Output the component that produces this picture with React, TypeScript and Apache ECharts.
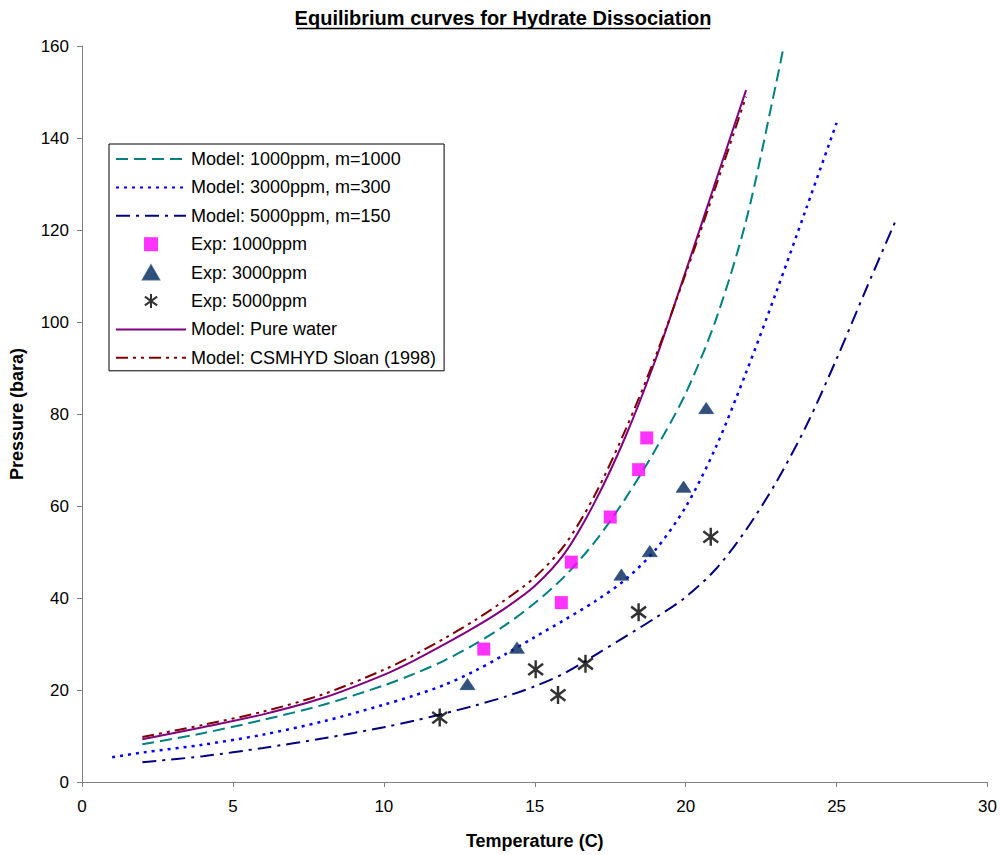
import React, { useEffect, useRef } from "react";
import * as echarts from "echarts";

// ---- Data ----
const pureT = [2, 4, 6, 8, 10, 11, 12, 13, 14, 15, 16, 17, 18, 19, 20, 21, 22];
const pureP = [9.3, 11.9, 14.7, 18.3, 23.3, 26.4, 29.9, 33.6, 37.7, 42.6, 49.8, 61.0, 75.0, 91.8, 111, 130.7, 150.4];

const sloanT = [2, 4, 6, 8, 10, 11, 12, 13, 14, 15, 16, 17, 18, 19, 20, 21, 22];
const sloanP = [9.8, 12.4, 15.3, 19.1, 24.4, 27.6, 31.2, 35.1, 39.5, 44.5, 51.6, 62.5, 76.5, 92.5, 110.5, 129.5, 149];

const m1000T = [2, 4, 6, 8, 10, 11, 12, 13, 14, 15, 16, 17, 18, 19, 20, 21, 22, 23, 23.25];
const m1000P = [8.2, 10.6, 13.5, 16.8, 21.0, 23.5, 26.4, 29.9, 34.0, 38.9, 44.8, 52.3, 61.6, 72.3, 84.5, 100.5, 122, 152, 160];

const m3000T = [1, 2, 4, 6, 8, 10, 11, 12, 13, 14, 15, 16, 17, 18, 19, 20, 21, 22, 23, 24, 25];
const m3000P = [5.4, 6.4, 8.1, 10.3, 13.2, 16.8, 18.8, 21.1, 24.1, 27.7, 31.5, 35.3, 39.3, 44.0, 50.5, 59.8, 72.8, 89, 106.5, 124.8, 143.3];

const m5000T = [2, 4, 6, 8, 10, 11, 12, 13, 14, 15, 16, 17, 18, 19, 20, 21, 22, 23, 24, 25, 26, 27];
const m5000P = [4.3, 5.6, 7.4, 9.5, 11.9, 13.3, 14.9, 16.6, 18.5, 20.8, 23.7, 27.6, 31.6, 35.7, 40.2, 46.3, 54.8, 65.2, 77.5, 92, 107.5, 122.7];

const exp1000T = [13.31, 15.88, 16.21, 17.5, 18.44, 18.71];
const exp1000P = [28.9, 39.0, 47.8, 57.6, 67.9, 74.8];

const exp3000T = [12.77, 14.41, 17.87, 18.81, 19.93, 20.68];
const exp3000P = [21.3, 29.2, 45.1, 50.2, 64.2, 81.3];

const exp5000T = [11.85, 15.03, 15.77, 16.68, 18.44, 20.83];
const exp5000P = [14.0, 24.5, 18.9, 25.7, 36.9, 53.3];

const xTicks = { min: 0, max: 30, interval: 5 };
const yTicks = { min: 0, max: 160, interval: 20 };

const names = [
  "Model: 1000ppm, m=1000",
  "Model: 3000ppm, m=300",
  "Model: 5000ppm, m=150",
  "Exp: 1000ppm",
  "Exp: 3000ppm",
  "Exp: 5000ppm",
  "Model: Pure water",
  "Model: CSMHYD Sloan (1998)",
];

const FONT = "'Liberation Sans', Arial, sans-serif";
const SQUARE = "path://M0,0L10,0L10,10L0,10Z";
const TRIANGLE = "path://M7.5,0L15,13L0,13Z";
const ASTERISK = "path://M8,0L8,16M1,3L15,13M1,13L15,3";

const zip = (xs: number[], ys: number[]) => xs.map((x, i) => [x, ys[i]]);

export default function App() {
  const ref = useRef<HTMLDivElement>(null);

  useEffect(() => {
    if (!ref.current) return;
    const chart = echarts.init(ref.current, null, { renderer: "svg" });

    const lineSeries = (name: string, xs: number[], ys: number[], color: string, type: any, width: number) => ({
      name,
      type: "line",
      data: zip(xs, ys),
      symbol: "none",
      smooth: 0.3,
      clip: true,
      lineStyle: { color, width, type },
      itemStyle: { color },
      z: 2,
    });

    const option: any = {
      animation: false,
      backgroundColor: "#ffffff",
      textStyle: { fontFamily: FONT, color: "#000" },
      grid: { left: 82, right: 12, top: 46, bottom: 71, containLabel: false },
      xAxis: {
        type: "value",
        min: xTicks.min,
        max: xTicks.max,
        interval: xTicks.interval,
        name: "Temperature (C)",
        nameLocation: "middle",
        nameGap: 50,
        nameTextStyle: { fontFamily: FONT, fontSize: 18, fontWeight: "bold", color: "#000" },
        axisLine: { show: true, onZero: false, lineStyle: { color: "#808080", width: 1 } },
        axisTick: { show: true, inside: false, length: 5, lineStyle: { color: "#808080" } },
        axisLabel: { fontFamily: FONT, fontSize: 17, color: "#000", margin: 16 },
        splitLine: { show: false },
      },
      yAxis: {
        type: "value",
        min: yTicks.min,
        max: yTicks.max,
        interval: yTicks.interval,
        name: "Pressure (bara)",
        nameLocation: "middle",
        nameGap: 56,
        nameTextStyle: { fontFamily: FONT, fontSize: 18, fontWeight: "bold", color: "#000" },
        axisLine: { show: true, onZero: false, lineStyle: { color: "#808080", width: 1 } },
        axisTick: { show: true, inside: false, length: 5, lineStyle: { color: "#808080" } },
        axisLabel: { fontFamily: FONT, fontSize: 17, color: "#000", margin: 13 },
        splitLine: { show: false },
      },
      legend: {
        orient: "vertical",
        left: 109,
        top: 144,
        padding: [6, 8, 4, 6],
        backgroundColor: "#ffffff",
        borderColor: "#000000",
        borderWidth: 1,
        borderRadius: 0,
        itemWidth: 70,
        itemHeight: 14,
        itemGap: 10.4,
        symbolKeepAspect: true,
        textStyle: { fontFamily: FONT, fontSize: 18, color: "#000", lineHeight: 18 },
        data: names.map((n, i) =>
          i < 3 || i > 5 ? { name: n, itemStyle: { opacity: 0 } } : { name: n }
        ),
      },
      graphic: [
        {
          type: "text",
          x: 503,
          y: 18,
          style: {
            text: "Equilibrium curves for Hydrate Dissociation",
            font: `bold 20px ${FONT}`,
            fill: "#000",
            align: "center",
            verticalAlign: "middle",
          },
        },
        {
          type: "line",
          shape: { x1: 297, y1: 28.5, x2: 710, y2: 28.5 },
          style: { stroke: "#000", lineWidth: 1.5 },
        },
      ],
      series: [
        lineSeries(names[0], m1000T, m1000P, "#008080", [12, 6], 2),
        lineSeries(names[1], m3000T, m3000P, "#0000ff", [3, 5], 2.5),
        lineSeries(names[2], m5000T, m5000P, "#000080", [14, 6, 3, 6], 2),
        {
          name: names[3],
          type: "scatter",
          data: zip(exp1000T, exp1000P),
          symbol: SQUARE,
          symbolSize: 13,
          symbolKeepAspect: true,
          itemStyle: { color: "#ff00ff" },
          z: 4,
        },
        {
          name: names[4],
          type: "scatter",
          data: zip(exp3000T, exp3000P),
          symbol: TRIANGLE,
          symbolSize: [15, 13],
          symbolKeepAspect: true,
          itemStyle: { color: "#00235a", borderColor: "#1d4a78", borderWidth: 0.8 },
          z: 4,
        },
        {
          name: names[5],
          type: "scatter",
          data: zip(exp5000T, exp5000P),
          symbol: ASTERISK,
          symbolSize: [17, 18],
          symbolKeepAspect: true,
          itemStyle: { color: "transparent", borderColor: "#000000", borderWidth: 2.5 },
          z: 4,
        },
        lineSeries(names[6], pureT, pureP, "#800080", "solid", 2),
        lineSeries(names[7], sloanT, sloanP, "#800000", [12, 5, 3, 5, 3, 5], 2),
      ],
    };

    chart.setOption(option);
    return () => chart.dispose();
  }, []);

  return (
    <div
      ref={ref}
      style={{ position: "fixed", left: 0, top: 0, width: 1000, height: 855, background: "#fff" }}
    />
  );
}
